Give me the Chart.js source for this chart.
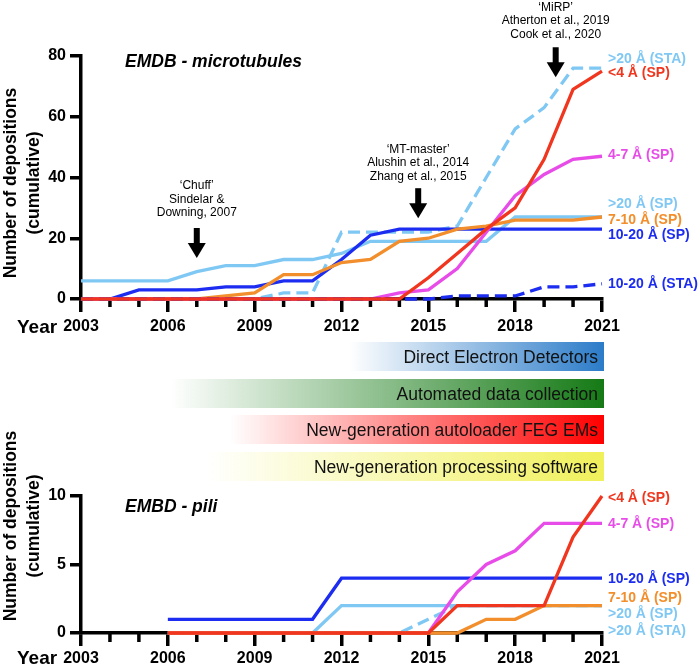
<!DOCTYPE html>
<html>
<head>
<meta charset="utf-8">
<script src="https://cdn.jsdelivr.net/npm/chart.js@4.4.1/dist/chart.umd.min.js"></script>
<style>
html, body { margin: 0; padding: 0; background: #fff; }
#wrap { position: relative; width: 699px; height: 667px; overflow: hidden; font-family: "Liberation Sans", Arial, sans-serif; }
canvas { position: absolute; left: 0; }
#topChart { top: 0; }
#bottomChart { top: 420px; }
.bar { position: absolute; height: 29px; line-height: 30px; box-sizing: border-box; padding-right: 6px;
       text-align: right; font-size: 17.5px; color: #111; z-index: 2; white-space: nowrap; }
</style>
</head>
<body>
<div id="wrap">
	<canvas id="topChart" width="699" height="345"></canvas>
	<canvas id="bottomChart" width="699" height="247"></canvas>
	<div class="bar" style="left:350px; width:254px; top:342px; background:linear-gradient(to right, rgba(43,123,200,0), rgba(43,123,200,1));">Direct Electron Detectors</div>
	<div class="bar" style="left:170px; width:434px; top:379px; background:linear-gradient(to right, rgba(21,122,21,0), rgba(21,122,21,1));">Automated data collection</div>
	<div class="bar" style="left:230px; width:374px; top:415px; background:linear-gradient(to right, rgba(255,0,0,0), rgba(255,0,0,1));">New-generation autoloader FEG EMs</div>
	<div class="bar" style="left:207px; width:397px; top:452px; background:linear-gradient(to right, rgba(240,240,90,0), rgba(240,240,90,1));">New-generation processing software</div>
</div>
<script>
//years on the x axis
var years = [2003, 2004, 2005, 2006, 2007, 2008, 2009, 2010, 2011, 2012, 2013, 2014, 2015, 2016, 2017, 2018, 2019, 2020, 2021];

//EMDB - microtubules (cumulative depositions)
var mtLt4SP     = [0, 0, 0, 0, 0, 0, 0, 0, 0, 0, 0, 0, 7, 15, 23, 30, 46, 69, 75];
var mt4to7SP    = [0, 0, 0, 0, 0, 0, 0, 0, 0, 0, 0, 2, 3, 10, 22, 34, 41, 46, 47];
var mt7to10SP   = [0, 0, 0, 0, 0, 1, 2, 8, 8, 12, 13, 19, 20, 23, 24, 26, 26, 26, 27];
var mt10to20SP  = [0, 0, 3, 3, 3, 4, 4, 6, 6, 13, 21, 23, 23, 23, 23, 23, 23, 23, 23];
var mtGt20SP    = [6, 6, 6, 6, 9, 11, 11, 13, 13, 15, 19, 19, 19, 19, 19, 27, 27, 27, 27];
var mt10to20STA = [0, 0, 0, 0, 0, 0, 0, 0, 0, 0, 0, 0, 0, 1, 1, 1, 4, 4, 5];
var mtGt20STA   = [0, 0, 0, 0, 0, 0, 0, 2, 2, 22, 22, 22, 22, 24, 40, 56, 63, 76, 76];

//EMBD - pili (cumulative depositions)
var piliLt4SP    = [null, null, null, 0, 0, 0, 0, 0, 0, 0, 0, 0, 0, 2, 2, 2, 2, 7, 10];
var pili4to7SP   = [null, null, null, 0, 0, 0, 0, 0, 0, 0, 0, 0, 0, 3, 5, 6, 8, 8, 8];
var pili7to10SP  = [null, null, null, 0, 0, 0, 0, 0, 0, 0, 0, 0, 0, 0, 1, 1, 2, 2, 2];
var pili10to20SP = [null, null, null, 1, 1, 1, 1, 1, 1, 4, 4, 4, 4, 4, 4, 4, 4, 4, 4];
var piliGt20SP   = [null, null, null, 0, 0, 0, 0, 0, 0, 2, 2, 2, 2, 2, 2, 2, 2, 2, 2];
var piliGt20STA  = [null, null, null, 0, 0, 0, 0, 0, 0, 0, 0, 0, 1, 2, 2, 2, 2, 2, 2];

//tick labels
var topYTicks = [0, 20, 40, 60, 80];
var bottomYTicks = [0, 5, 10];
var xLabelStep = 3;

//series names
var nameLt4SP = '<4 \u00c5 (SP)';
var name4to7SP = '4-7 \u00c5 (SP)';
var name7to10SP = '7-10 \u00c5 (SP)';
var name10to20SP = '10-20 \u00c5 (SP)';
var nameGt20SP = '>20 \u00c5 (SP)';
var name10to20STA = '10-20 \u00c5 (STA)';
var nameGt20STA = '>20 \u00c5 (STA)';

//colours
var cRed = '#f0361e';
var cPink = '#e84ce8';
var cOrange = '#f28e2b';
var cBlue = '#1c2cf0';
var cLight = '#80c8f4';

var FONT = '"Liberation Sans", Arial, sans-serif';
Chart.defaults.font.family = FONT;
Chart.defaults.color = '#000';

function points(vals) {
	return years.map(function(yr, i) { return { x: yr, y: vals[i] }; });
}

function series(label, vals, color, dashed) {
	return {
		label: label,
		data: points(vals),
		borderColor: color,
		backgroundColor: color,
		borderWidth: 3.3,
		borderDash: dashed ? [12, 6] : [],
		pointRadius: 0,
		tension: 0,
		clip: false
	};
}

//draws minor x ticks, titles, annotations and end labels
var extras = {
	id: 'extras',
	beforeDatasetsDraw: function(chart, args, o) {
		var xs = chart.scales.x, ys = chart.scales.y, ctx = chart.ctx;
		ctx.save();
		ctx.strokeStyle = '#000';
		ctx.lineWidth = 3.5;
		for (var yr = xs.min; yr <= xs.max; yr++) {
			if ((yr - xs.min) % xLabelStep === 0) continue;
			var px = xs.getPixelForValue(yr);
			ctx.beginPath();
			ctx.moveTo(px, ys.bottom);
			ctx.lineTo(px, ys.bottom + o.minorTick);
			ctx.stroke();
		}
		ctx.restore();
	},
	afterDraw: function(chart, args, o) {
		var xs = chart.scales.x, ys = chart.scales.y, ctx = chart.ctx;
		ctx.save();
		ctx.fillStyle = '#000';

		//chart title
		ctx.font = 'italic bold 17.5px ' + FONT;
		ctx.textAlign = 'left';
		ctx.textBaseline = 'alphabetic';
		ctx.fillText(o.title, 125, o.titleBaseline);

		//y axis title
		ctx.font = 'bold 17.5px ' + FONT;
		ctx.textAlign = 'center';
		ctx.textBaseline = 'middle';
		[11, 34].forEach(function(cx, i) {
			ctx.save();
			ctx.translate(cx, o.yTitleCenter);
			ctx.rotate(-Math.PI / 2);
			ctx.fillText(['Number of depositions', '(cumulative)'][i], 0, 0);
			ctx.restore();
		});

		//'Year'
		ctx.font = 'bold 19px ' + FONT;
		ctx.textAlign = 'left';
		ctx.textBaseline = 'alphabetic';
		ctx.fillText('Year', 17, ys.bottom + o.yearOffset);

		//annotations with arrows
		(o.notes || []).forEach(function(n) {
			var ax = xs.getPixelForValue(n.x);
			var tip = ys.getPixelForValue(n.tip);
			var top = tip - 30;
			ctx.fillStyle = '#000';
			ctx.fillRect(ax - 3, top, 6, 17);
			ctx.beginPath();
			ctx.moveTo(ax - 9, top + 15);
			ctx.lineTo(ax + 9, top + 15);
			ctx.lineTo(ax, tip);
			ctx.closePath();
			ctx.fill();
			ctx.font = '12px ' + FONT;
			ctx.textAlign = 'center';
			ctx.textBaseline = 'middle';
			var last = n.lines.length - 1;
			n.lines.forEach(function(t, i) {
				ctx.fillText(t, ax, top - n.gap - (last - i) * 13.5);
			});
		});

		//end labels
		ctx.font = 'bold 14px ' + FONT;
		ctx.textAlign = 'left';
		ctx.textBaseline = 'middle';
		(o.labels || []).forEach(function(l) {
			ctx.fillStyle = l.color;
			ctx.fillText(l.text, 608, ys.getPixelForValue(l.at));
		});
		ctx.restore();
	}
};

function axes(yTicks, xHeight, majorTick, labelPad) {
	return {
		x: {
			type: 'linear',
			min: years[0],
			max: years[years.length - 1],
			afterFit: function(s) { s.height = xHeight; },
			border: { display: true, color: '#000', width: 3.5 },
			grid: { drawOnChartArea: false, drawTicks: true, tickLength: majorTick, color: '#000', lineWidth: 3.5 },
			ticks: {
				stepSize: xLabelStep,
				padding: labelPad,
				maxRotation: 0,
				font: { size: 16, weight: 'bold' },
				color: '#000',
				callback: function(v) { return String(v); }
			}
		},
		y: {
			min: yTicks[0],
			max: yTicks[yTicks.length - 1],
			afterFit: function(s) { s.width = 81; },
			border: { display: true, color: '#000', width: 3.5 },
			grid: { drawOnChartArea: false, drawTicks: true, tickLength: 11, color: '#000', lineWidth: 3.5 },
			ticks: {
				stepSize: yTicks[1] - yTicks[0],
				padding: 4,
				font: { size: 16, weight: 'bold' },
				color: '#000'
			}
		}
	};
}

var topChart = new Chart(document.getElementById('topChart'), {
	type: 'line',
	data: {
		datasets: [
			series(nameLt4SP, mtLt4SP, cRed),
			series(name10to20STA, mt10to20STA, cBlue, true),
			series(name4to7SP, mt4to7SP, cPink),
			series(name7to10SP, mt7to10SP, cOrange),
			series(name10to20SP, mt10to20SP, cBlue),
			series(nameGt20STA, mtGt20STA, cLight, true),
			series(nameGt20SP, mtGt20SP, cLight)
		]
	},
	options: {
		responsive: false,
		animation: false,
		events: [],
		layout: { padding: { top: 56, right: 97, left: 0, bottom: 0 } },
		scales: axes(topYTicks, 46, 13, 5),
		plugins: {
			legend: { display: false },
			tooltip: { enabled: false },
			extras: {
				minorTick: 8,
				title: 'EMDB - microtubules',
				titleBaseline: 67,
				yTitleCenter: 183,
				yearOffset: 34,
				notes: [
					{ x: 2007, tip: 13.5, gap: 15, lines: ['\u2018Chuff\u2019', 'Sindelar &', 'Downing, 2007'] },
					{ x: 2014.65, tip: 26.6, gap: 12, lines: ['\u2018MT-master\u2019', 'Alushin et al., 2014', 'Zhang et al., 2015'] },
					{ x: 2019.4, tip: 73, gap: 13, lines: ['\u2018MiRP\u2019', 'Atherton et al., 2019', 'Cook et al., 2020'] }
				],
				labels: [
					{ text: nameGt20STA, color: cLight, at: 79 },
					{ text: nameLt4SP, color: cRed, at: 74.3 },
					{ text: name4to7SP, color: cPink, at: 47.4 },
					{ text: nameGt20SP, color: cLight, at: 31.2 },
					{ text: name7to10SP, color: cOrange, at: 26 },
					{ text: name10to20SP, color: cBlue, at: 21 },
					{ text: name10to20STA, color: cBlue, at: 4.9 }
				]
			}
		}
	},
	plugins: [extras]
});

var bottomChart = new Chart(document.getElementById('bottomChart'), {
	type: 'line',
	data: {
		datasets: [
			series(nameLt4SP, piliLt4SP, cRed),
			series(name7to10SP, pili7to10SP, cOrange),
			series(name4to7SP, pili4to7SP, cPink),
			series(name10to20SP, pili10to20SP, cBlue),
			series(nameGt20STA, piliGt20STA, cLight, true),
			series(nameGt20SP, piliGt20SP, cLight)
		]
	},
	options: {
		responsive: false,
		animation: false,
		events: [],
		layout: { padding: { top: 76, right: 97, left: 0, bottom: 0 } },
		scales: axes(bottomYTicks, 34, 13, 3),
		plugins: {
			legend: { display: false },
			tooltip: { enabled: false },
			extras: {
				minorTick: 9,
				title: 'EMBD - pili',
				titleBaseline: 92,
				yTitleCenter: 106,
				yearOffset: 31,
				notes: [],
				labels: [
					{ text: nameLt4SP, color: cRed, at: 9.85 },
					{ text: name4to7SP, color: cPink, at: 7.96 },
					{ text: name10to20SP, color: cBlue, at: 3.94 },
					{ text: name7to10SP, color: cOrange, at: 2.55 },
					{ text: nameGt20SP, color: cLight, at: 1.39 },
					{ text: nameGt20STA, color: cLight, at: 0.15 }
				]
			}
		}
	},
	plugins: [extras]
});
</script>
</body>
</html>
